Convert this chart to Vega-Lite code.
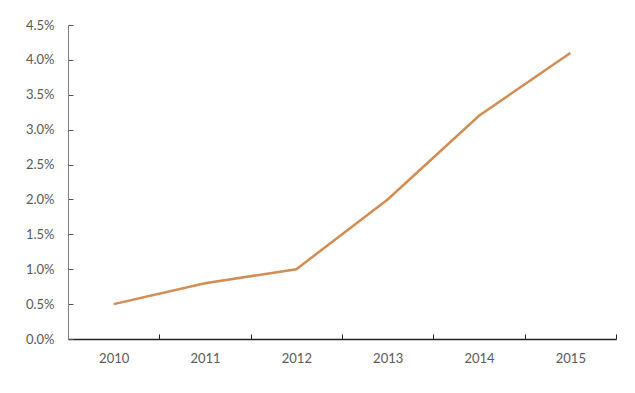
{
  "$schema": "https://vega.github.io/schema/vega-lite/v6.json",
  "width": 548,
  "height": 314,
  "autosize": {"type": "none"},
  "padding": {"left": 68, "top": 25, "right": 19, "bottom": 54},
  "background": "white",
  "config": {"view": {"stroke": null}},
  "data": {"values": [
    {"year": "2010", "value": 0.005},
    {"year": "2011", "value": 0.008},
    {"year": "2012", "value": 0.010},
    {"year": "2013", "value": 0.020},
    {"year": "2014", "value": 0.032},
    {"year": "2015", "value": 0.041}
  ]},
  "mark": {"type": "line", "color": "#D28D55", "strokeWidth": 2.5},
  "encoding": {
    "x": {
      "field": "year", "type": "ordinal",
      "scale": {"type": "band", "paddingInner": 0, "paddingOuter": 0},
      "axis": {
        "title": null, "labelAngle": 0, "tickBand": "extent",
        "domainColor": "#222222", "domainWidth": 1.5,
        "tickColor": "#222222", "tickSize": -5,
        "labelPadding": 18, "labelFont": "Lato", "labelFontSize": 13, "labelColor": "#595959"
      }
    },
    "y": {
      "field": "value", "type": "quantitative",
      "scale": {"domain": [0, 0.045], "nice": false},
      "axis": {
        "title": null, "grid": false, "format": ".1%",
        "values": [0, 0.005, 0.01, 0.015, 0.02, 0.025, 0.03, 0.035, 0.04, 0.045],
        "domainColor": "#7f7f7f", "domainWidth": 1,
        "tickColor": "#555555", "tickSize": -5,
        "labelPadding": 19, "labelFont": "Lato", "labelFontSize": 13, "labelColor": "#595959"
      }
    }
  }
}
